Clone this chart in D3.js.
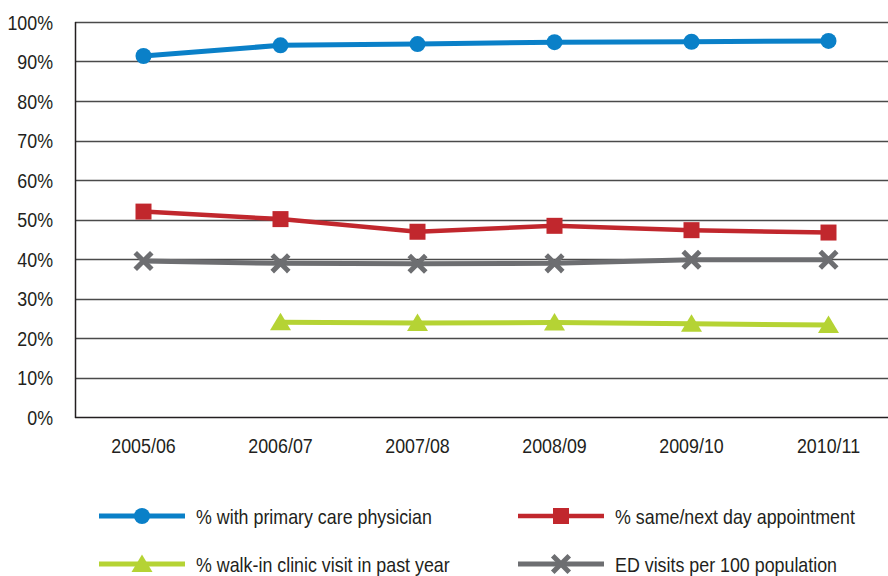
<!DOCTYPE html>
<html>
<head>
<meta charset="utf-8">
<script src="https://cdn.jsdelivr.net/npm/d3@7"></script>
<style>
  html, body { margin: 0; padding: 0; background: #fff; }
  svg text { font-family: "Liberation Sans", Arial, sans-serif; fill: #231f20; font-size: 21px; }
</style>
</head>
<body>
<svg id="chart" width="888" height="576"></svg>
<script>
const categories = ["2005/06", "2006/07", "2007/08", "2008/09", "2009/10", "2010/11"];
const yTicks = [0, 10, 20, 30, 40, 50, 60, 70, 80, 90, 100];
const primaryCare = [91.4, 94.1, 94.4, 94.9, 95.0, 95.2];
const sameNextDay = [52.0, 50.1, 46.9, 48.4, 47.3, 46.7];
const walkIn = [null, 24.0, 23.8, 23.9, 23.6, 23.3];
const edVisits = [39.5, 38.9, 38.8, 38.9, 39.8, 39.8];
const seriesNames = ["% with primary care physician", "% same/next day appointment", "% walk-in clinic visit in past year", "ED visits per 100 population"];

const series = [
  { name: seriesNames[0], values: primaryCare, color: "#0a80c8", marker: "circle", width: 5 },
  { name: seriesNames[1], values: sameNextDay, color: "#c1272d", marker: "square", width: 4.5 },
  { name: seriesNames[2], values: walkIn, color: "#b5d334", marker: "triangle", width: 5 },
  { name: seriesNames[3], values: edVisits, color: "#6d6e71", marker: "x", width: 5 }
];

const SX = 0.85; // horizontal condensing to mimic a condensed typeface
const svg = d3.select("#chart");
const pLeft = 75, pRight = 897, pTop = 22, pBottom = 417;

const x = d3.scalePoint().domain(categories).range([pLeft, pRight]).padding(0.5);
const y = d3.scaleLinear().domain([0, 100]).range([pBottom, pTop]);

function condText(parent, tx, ty, str, anchor) {
  return parent.append("text")
    .attr("transform", `translate(${tx},${ty}) scale(${SX},1)`)
    .attr("text-anchor", anchor)
    .text(str);
}

// gridlines
svg.append("g").selectAll("line").data(yTicks.filter(d => d > 0)).join("line")
  .attr("x1", pLeft).attr("x2", 888)
  .attr("y1", d => Math.round(y(d)) + 0.5).attr("y2", d => Math.round(y(d)) + 0.5)
  .attr("stroke", "#4a4a4a").attr("stroke-width", 1.3);

// axes lines
svg.append("line").attr("x1", pLeft + 0.5).attr("x2", pLeft + 0.5)
  .attr("y1", Math.round(y(100))).attr("y2", Math.round(y(0)) + 1)
  .attr("stroke", "#231f20").attr("stroke-width", 1.5);
svg.append("line").attr("x1", pLeft).attr("x2", 888)
  .attr("y1", Math.round(y(0)) + 0.5).attr("y2", Math.round(y(0)) + 0.5)
  .attr("stroke", "#231f20").attr("stroke-width", 1.5);

// y labels
const gy = svg.append("g");
yTicks.forEach(t => condText(gy, 53, y(t) + 7.5, t + "%", "end"));

// x labels
const gx = svg.append("g");
categories.forEach(c => condText(gx, x(c), 453, c, "middle"));

function drawMarker(g, type, cx, cy, color) {
  if (type === "circle") {
    g.append("circle").attr("cx", cx).attr("cy", cy).attr("r", 8).attr("fill", color);
  } else if (type === "square") {
    g.append("rect").attr("x", cx - 8).attr("y", cy - 8).attr("width", 16).attr("height", 16).attr("fill", color);
  } else if (type === "triangle") {
    g.append("path").attr("d", `M${cx},${cy - 9.5}L${cx + 10.5},${cy + 8}L${cx - 10.5},${cy + 8}Z`).attr("fill", color);
  } else if (type === "x") {
    const s = 6.5;
    g.append("path").attr("d", `M${cx - s},${cy - s}L${cx + s},${cy + s}M${cx + s},${cy - s}L${cx - s},${cy + s}`)
      .attr("stroke", color).attr("stroke-width", 5).attr("stroke-linecap", "square").attr("fill", "none");
  }
}

const line = d3.line().defined(d => d.v != null).x(d => x(d.c)).y(d => y(d.v));
const plot = svg.append("g");
series.forEach(s => {
  const pts = categories.map((c, i) => ({ c, v: s.values[i] }));
  plot.append("path").datum(pts).attr("d", line).attr("fill", "none")
    .attr("stroke", s.color).attr("stroke-width", s.width).attr("stroke-linejoin", "round");
});
series.forEach(s => {
  const g = plot.append("g");
  categories.forEach((c, i) => {
    if (s.values[i] != null) drawMarker(g, s.marker, x(c), y(s.values[i]), s.color);
  });
});

// legend
const legendPos = [
  { lx: 99, ty: 516 }, { lx: 518, ty: 516 },
  { lx: 99, ty: 564 }, { lx: 518, ty: 564 }
];
series.forEach((s, i) => {
  const p = legendPos[i];
  const g = svg.append("g");
  g.append("line").attr("x1", p.lx).attr("x2", p.lx + 86).attr("y1", p.ty).attr("y2", p.ty)
    .attr("stroke", s.color).attr("stroke-width", s.width);
  drawMarker(g, s.marker, p.lx + 43, p.ty, s.color);
  condText(g, p.lx + 97, p.ty + 7.5, s.name, "start");
});
</script>
</body>
</html>
